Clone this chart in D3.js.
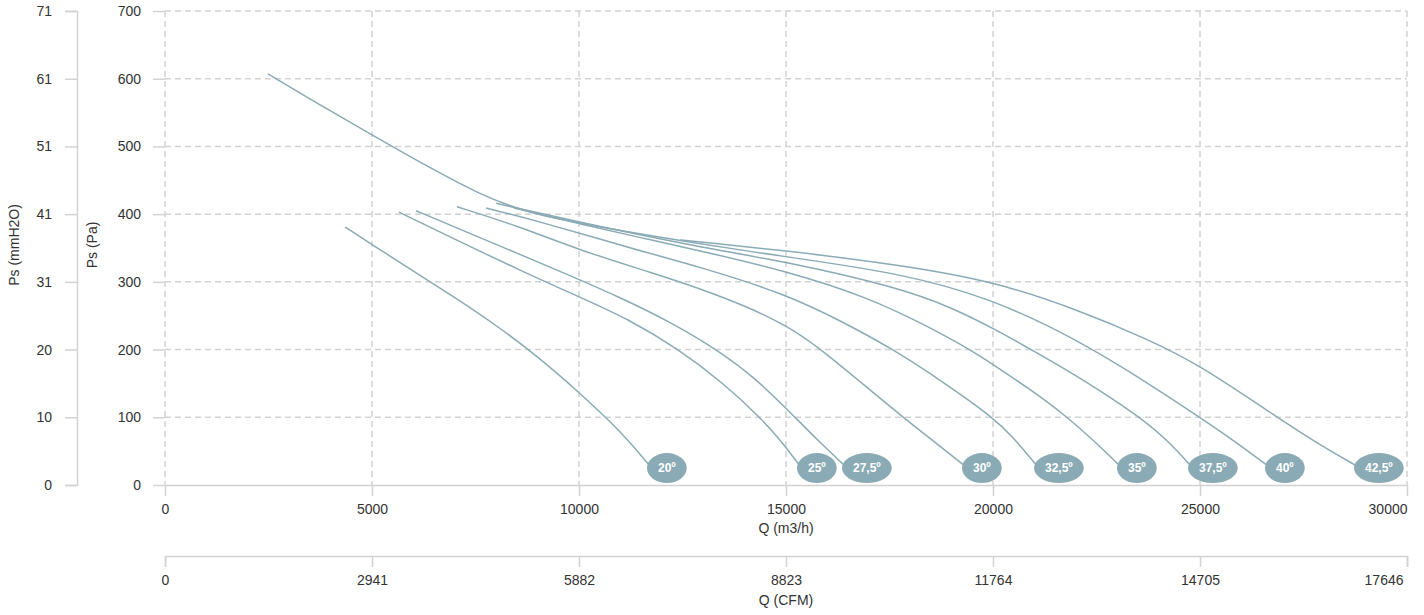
<!DOCTYPE html>
<html>
<head>
<meta charset="utf-8">
<script src="https://cdn.jsdelivr.net/npm/d3@7/dist/d3.min.js"></script>
<style>
  body { margin: 0; background: #fff; }
  svg { display: block; font-family: "Liberation Sans", Arial, sans-serif; }
  .tick text, .lbl { fill: #333; font-size: 14px; }
  .axis path, .axis line { stroke: #d2d2d2; stroke-width: 1.5; }
  .grid line { stroke: #d2d2d2; stroke-width: 1.5; stroke-dasharray: 6,4; }
  .fan { fill: none; stroke: #8aabb5; stroke-width: 1.5; }
  .tag ellipse { fill: #8aabb5; }
  .tag text { fill: #fff; font-size: 12px; font-weight: bold; }
</style>
</head>
<body>
<svg id="chart" width="1424" height="615"></svg>
<script>
// fan curves, [Q m3/h, Ps Pa]
var c20 = [[4350,381],[5000,355],[6000,316],[7000,277],[8000,236],[9000,190],[10000,137],[11000,80],[11715,28]];
var c25 = [[5650,403],[7000,363],[8575,317],[10000,278],[11200,245],[12367,202],[13500,150],[14372,100],[14900,64],[15338,28]];
var c275 = [[6063,405],[7500,368],[9493,317],[11000,277],[12200,241],[13333,200],[14300,156],[15169,103],[15800,64],[16425,28]];
var c30 = [[7053,411],[8500,383],[10000,347],[11836,312],[12923,290],[14000,265],[15000,236],[15750,205],[16800,152],[17826,100],[18600,63],[19324,28]];
var c325 = [[7754,409],[9000,390],[11400,347],[12923,322],[15000,282],[16400,240],[17600,200],[18800,152],[20000,100],[20500,70],[21063,28]];
var c35 = [[8430,409],[10000,386],[11500,365],[12923,346],[15000,316],[17000,277],[18500,232],[19440,200],[20000,178],[21000,137],[21740,103],[22500,62],[23068,28]];
var c375 = [[8000,416],[10000,388],[12923,351],[15000,330],[17754,291],[19000,262],[20000,232],[21500,180],[22500,143],[23550,100],[24200,67],[24783,28]];
var c40 = [[2488,607],[3500,570],[5000,517],[6500,465],[7584,430],[8647,404],[10000,386],[12923,356],[15000,337],[17754,313],[20000,275],[22053,214],[23500,160],[25000,100],[25900,62],[26643,28]];
var c425 = [[12440,362],[12923,359],[15000,346],[17754,325],[20000,301],[22000,260],[23792,214],[25000,177],[26860,100],[28000,55],[28792,28]];

var curves = [c20, c25, c275, c30, c325, c35, c375, c40, c425];
var angleLabels = ['20º', '25º', '27,5º', '30º', '32,5º', '35º', '37,5º', '40º', '42,5º'];

var paTicks = [0, 100, 200, 300, 400, 500, 600, 700];
var qTicks = [0, 5000, 10000, 15000, 20000, 25000, 30000];
var cfmTicks = [0, 2941, 5882, 8823, 11764, 14705, 17646];

var plotLeft = 165, plotRight = 1407, plotTop = 11, plotBottom = 485;

var svg = d3.select('#chart');

var x = d3.scaleLinear().domain([0, 30000]).range([plotLeft, plotRight]);
var y = d3.scaleLinear().domain([0, 700]).range([plotBottom, plotTop]);
var xCfm = d3.scaleLinear().domain([0, 17646]).range([plotLeft, plotRight]);

// grid
var grid = svg.append('g').attr('class', 'grid');
grid.selectAll('line.h')
    .data(paTicks.filter(d => d > 0))
    .enter().append('line')
    .attr('class', 'h')
    .attr('x1', plotLeft).attr('x2', plotRight)
    .attr('y1', d => y(d)).attr('y2', d => y(d));
grid.selectAll('line.v')
    .data(qTicks)
    .enter().append('line')
    .attr('class', 'v')
    .attr('x1', d => x(d)).attr('x2', d => x(d))
    .attr('y1', plotTop).attr('y2', plotBottom);

// Pa axis
var paAxis = svg.append('g')
    .attr('class', 'axis')
    .attr('transform', `translate(${plotLeft},0)`)
    .call(d3.axisLeft(y).tickValues(paTicks).tickSize(12).tickPadding(12));
paAxis.select('.domain').remove();

// mmH2O axis, same ticks as Pa
svg.append('g')
    .attr('class', 'axis')
    .attr('transform', 'translate(77,0)')
    .call(d3.axisLeft(y).tickValues(paTicks).tickSize(12).tickPadding(13)
        .tickFormat(d => Math.round(d / 9.81)));

// Q m3/h axis
var qAxis = svg.append('g')
    .attr('class', 'axis')
    .attr('transform', `translate(0,${plotBottom})`)
    .call(d3.axisBottom(x).tickValues(qTicks).tickSize(11).tickSizeOuter(0).tickPadding(8)
        .tickFormat(d => d));
qAxis.selectAll('.tick text').filter(d => d == 30000).attr('text-anchor', 'end');

// Q CFM axis
var cfmAxis = svg.append('g')
    .attr('class', 'axis')
    .attr('transform', 'translate(0,556)')
    .call(d3.axisBottom(xCfm).tickValues(cfmTicks).tickSize(11).tickPadding(8)
        .tickFormat(d => d));
cfmAxis.selectAll('.tick text').filter(d => d == 17646).attr('text-anchor', 'end').attr('x', -4);

svg.selectAll('.tick text').attr('fill', '#333');

// axis titles
svg.append('text').attr('class', 'lbl')
    .attr('x', (plotLeft + plotRight) / 2).attr('y', 533)
    .attr('text-anchor', 'middle').text('Q (m3/h)');
svg.append('text').attr('class', 'lbl')
    .attr('x', (plotLeft + plotRight) / 2).attr('y', 605)
    .attr('text-anchor', 'middle').text('Q (CFM)');
svg.append('text').attr('class', 'lbl')
    .attr('transform', 'translate(19,245) rotate(-90)')
    .attr('text-anchor', 'middle').text('Ps (mmH2O)');
svg.append('text').attr('class', 'lbl')
    .attr('transform', 'translate(97,245) rotate(-90)')
    .attr('text-anchor', 'middle').text('Ps (Pa)');

// curves
var line = d3.line()
    .x(d => x(d[0]))
    .y(d => y(d[1]))
    .curve(d3.curveBasis);

svg.append('g').selectAll('path')
    .data(curves)
    .enter().append('path')
    .attr('class', 'fan')
    .attr('d', line);

// angle tags at curve ends
var tags = svg.append('g').selectAll('g.tag')
    .data(curves)
    .enter().append('g')
    .attr('class', 'tag');

tags.each(function (d, i) {
    var g = d3.select(this);
    var end = d[d.length - 1];
    var t = g.append('text')
        .attr('text-anchor', 'middle')
        .attr('dy', '0.35em')
        .text(angleLabels[i]);
    var w = t.node().getComputedTextLength();
    var rx = w / 2 + 11;
    var cx = x(end[0]) + rx - 3;
    var cy = y(end[1]) + 2;
    g.insert('ellipse', 'text')
        .attr('cx', cx).attr('cy', cy)
        .attr('rx', rx).attr('ry', 15);
    t.attr('x', cx).attr('y', cy);
});
</script>
</body>
</html>
